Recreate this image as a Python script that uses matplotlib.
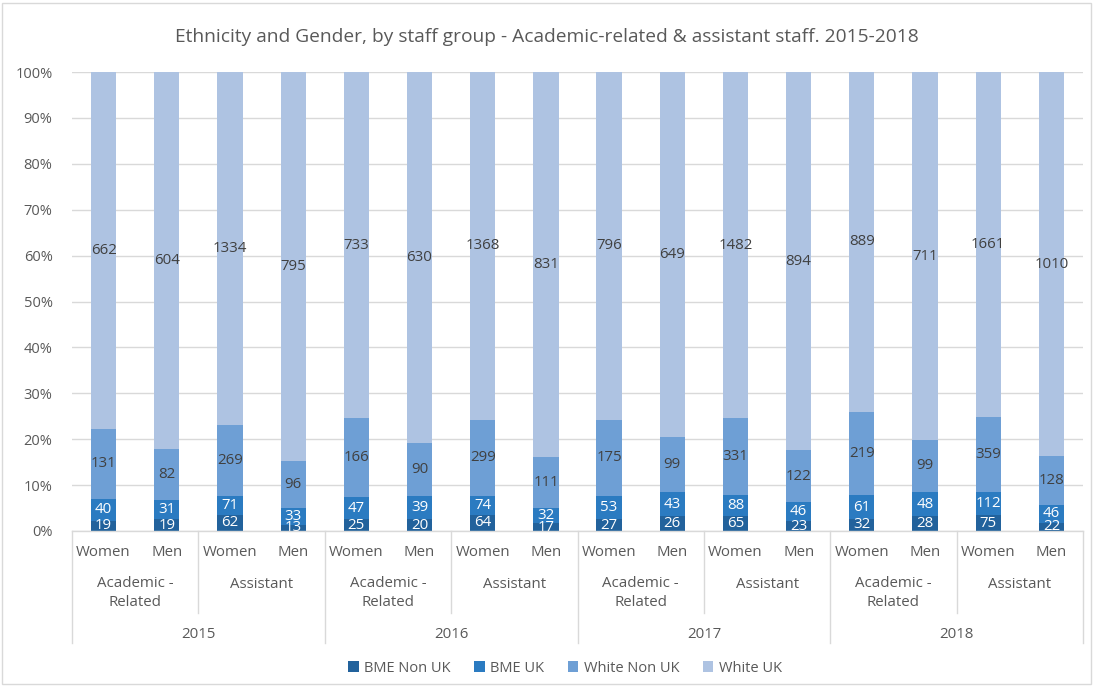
import matplotlib
matplotlib.use("Agg")
import matplotlib.pyplot as plt
import numpy as np
from matplotlib.patches import Rectangle

plt.rcParams['font.family'] = ['Open Sans', 'DejaVu Sans']

years = ["2015", "2016", "2017", "2018"]
groups = ["Academic -\nRelated", "Assistant"]
genders = ["Women", "Men"]

series_names = ["BME Non UK", "BME UK", "White Non UK", "White UK"]
bme_non_uk = [19, 19, 62, 13, 25, 20, 64, 17, 27, 26, 65, 23, 32, 28, 75, 22]
bme_uk = [40, 31, 71, 33, 47, 39, 74, 32, 53, 43, 88, 46, 61, 48, 112, 46]
white_non_uk = [131, 82, 269, 96, 166, 90, 299, 111, 175, 99, 331, 122, 219, 99, 359, 128]
white_uk = [662, 604, 1334, 795, 733, 630, 1368, 831, 796, 649, 1482, 894, 889, 711, 1661, 1010]

colors = ["#22629C", "#2B7BC1", "#6E9FD5", "#AEC3E2"]
label_colors = ["white", "white", "#404040", "#404040"]

data = np.array([bme_non_uk, bme_uk, white_non_uk, white_uk], dtype=float)
totals = data.sum(axis=0)
pct = data / totals * 100

W, H = 1094, 686
fig = plt.figure(figsize=(W / 100, H / 100), dpi=100)
ax = fig.add_axes([72 / W, 1 - 531 / H, (1083 - 72) / W, (531 - 72) / H])

n = data.shape[1]
x = np.arange(n)
bottom = np.zeros(n)
handles = []
for i in range(4):
    bars = ax.bar(x, pct[i], 0.4, bottom=bottom, color=colors[i], label=series_names[i],
                  zorder=2, edgecolor='none')
    handles.append(bars)
    for j in range(n):
        ax.text(x[j], bottom[j] + pct[i][j] / 2, f"{int(data[i][j])}", ha='center', va='center',
                fontsize=10.8, color=label_colors[i], zorder=3, clip_on=(i == 0))
    bottom += pct[i]

ax.set_xlim(-0.5, n - 0.5)
ax.set_ylim(0, 100)
ax.set_yticks(np.arange(0, 101, 10))
ax.set_yticklabels([f"{v}%" for v in range(0, 101, 10)], color="#595959", fontsize=10.5)
ax.tick_params(axis='y', length=0, pad=14)
ax.set_xticks([])
ax.yaxis.grid(True, color="#D9D9D9", linewidth=1, zorder=0)
for s in ['top', 'right', 'left']:
    ax.spines[s].set_visible(False)
ax.spines['bottom'].set_color("#D9D9D9")
ax.spines['bottom'].set_linewidth(1)
ax.spines['bottom'].set_zorder(4)

trans = ax.get_xaxis_transform()
ah = 531 - 72

def yax(py):
    return (531 - py) / ah

# gender labels
for j in range(n):
    ax.text(x[j], yax(552), genders[j % 2], ha='center', va='center', fontsize=10.8,
            color="#595959", transform=trans, clip_on=False)
# group labels
for k in range(8):
    cx = 2 * k + 0.5
    ax.text(cx, yax(584) if k % 2 == 1 else yax(593), groups[k % 2], ha='center', va='center',
            fontsize=10.8, color="#595959", transform=trans, clip_on=False, linespacing=1.45)
# year labels
for k in range(4):
    ax.text(4 * k + 1.5, yax(634), years[k], ha='center', va='center', fontsize=10.8,
            color="#595959", transform=trans, clip_on=False)
# separators
for k in range(5):
    ax.plot([4 * k - 0.5] * 2, [0, yax(643)], color="#D9D9D9", lw=1, transform=trans, clip_on=False)
for k in range(4):
    ax.plot([4 * k + 1.5] * 2, [0, yax(613)], color="#D9D9D9", lw=1, transform=trans, clip_on=False)

fig.text(0.5, 1 - 37 / H, "Ethnicity and Gender, by staff group - Academic-related & assistant staff. 2015-2018",
         ha='center', va='center', fontsize=13.8, color="#595959")

leg = fig.legend(handles=handles, labels=series_names, loc='center', bbox_to_anchor=(565 / W, 1 - 668 / H),
                 ncol=4, frameon=False, fontsize=10.5, handlelength=0.7, handleheight=0.7,
                 handletextpad=0.4, columnspacing=1.6)
for t in leg.get_texts():
    t.set_color("#595959")

fig.patches.append(Rectangle((2 / W, 2 / H), (W - 5) / W, (H - 5) / H, transform=fig.transFigure,
                             fill=False, edgecolor="#D9D9D9", lw=1))

fig.savefig("out.png", dpi=100)
